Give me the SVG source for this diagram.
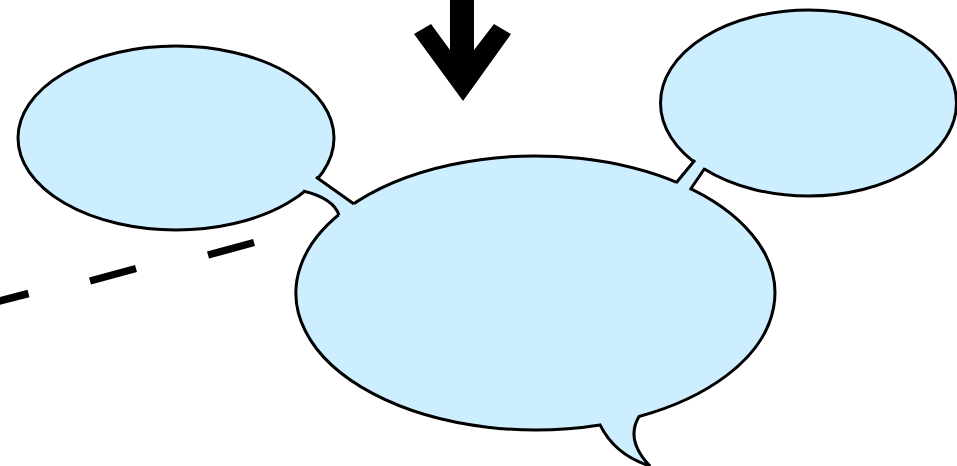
<svg xmlns="http://www.w3.org/2000/svg" width="957" height="466" viewBox="0 0 957 466">
<style>
.bubble{fill:#cceeff;stroke:#000;stroke-width:3;stroke-linejoin:miter}
.neckfill{fill:#cceeff;stroke:none}
.neckline{fill:none;stroke:#000;stroke-width:3;stroke-linecap:butt}
.dash{stroke:#000;stroke-width:7.5;stroke-linecap:butt}
</style>
<rect width="957" height="466" fill="#fff"/>
<g id="node-left">
<ellipse class="bubble" cx="176" cy="138" rx="158" ry="92"/>
</g>
<g id="node-right">
<ellipse class="bubble" cx="808.5" cy="103" rx="148" ry="93"/>
</g>
<g id="node-main">
<path class="bubble" d="M639,416.5 A239.5,137 0 1 0 600,424.9 Q615,455 650,466 Q625,440 639,416.5 Z"/>
</g>
<g id="connectors">
<path class="neckfill" d="M288,188 L301,166 L316,177 L354,204 L368,214 L343,226 L339,215 Q333,198 303,191 Z"/>
<line class="neckline" x1="316" y1="177" x2="354" y2="204"/>
<path class="neckline" d="M303,191 Q333,198 339,215"/>
<path class="neckfill" d="M668,193 L676,183 L695,160 L703,150 L713,156 L705,168 L690,190 L682,202 Z"/>
<line class="neckline" x1="676" y1="183" x2="695" y2="160"/>
<line class="neckline" x1="690" y1="190" x2="705" y2="168"/>
<line class="dash" x1="-2" y1="301.5" x2="28.5" y2="293.5"/>
<line class="dash" x1="90" y1="281" x2="136" y2="268.5"/>
<line class="dash" x1="208" y1="255" x2="254" y2="242.5"/>
</g>
<g id="arrow">
<polygon fill="#000" points="450,0 474,0 474,50 494,24 511,34 463,101 414,34 431,24 450,50"/>
</g>
</svg>
